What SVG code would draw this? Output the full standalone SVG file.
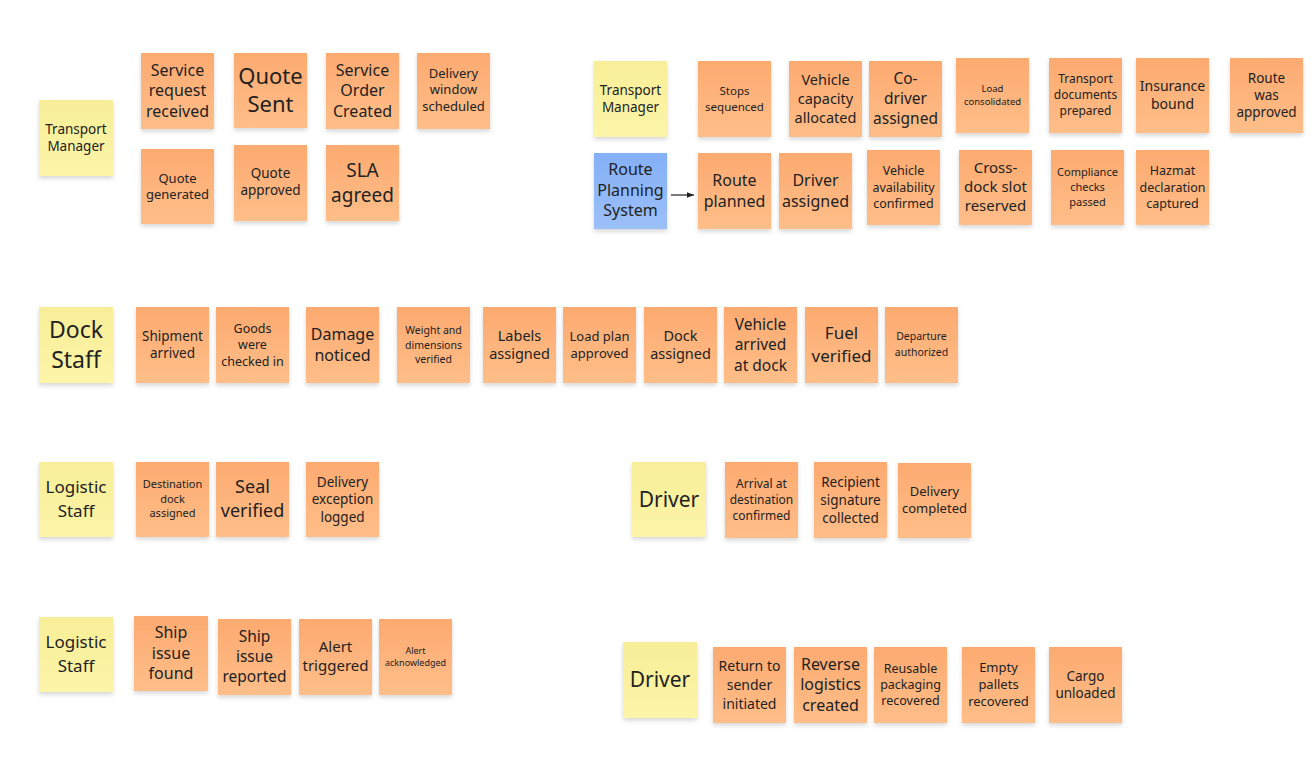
<svg xmlns="http://www.w3.org/2000/svg" width="1315" height="760" viewBox="0 0 1315 760">
<defs>
<linearGradient id="gO" x1="0" y1="0" x2="0" y2="1"><stop offset="0" stop-color="#FCAA70"/><stop offset="1" stop-color="#FFBE89"/></linearGradient>
<linearGradient id="gY" x1="0" y1="0" x2="0" y2="1"><stop offset="0" stop-color="#F8EE98"/><stop offset="1" stop-color="#FCF5A8"/></linearGradient>
<linearGradient id="gB" x1="0" y1="0" x2="0" y2="1"><stop offset="0" stop-color="#84B0F6"/><stop offset="1" stop-color="#9CC0F8"/></linearGradient>
<filter id="sh" x="-20%" y="-20%" width="140%" height="150%"><feDropShadow dx="0" dy="2.5" stdDeviation="2" flood-color="#000" flood-opacity="0.16"/></filter>
<marker id="ah" viewBox="0 0 10 10" refX="10" refY="5" markerWidth="7" markerHeight="7" markerUnits="userSpaceOnUse" orient="auto"><path d="M0,1 L10,5 L0,9 z" fill="#222"/></marker>
</defs>
<style>
.o{fill:url(#gO);filter:url(#sh)}
.y{fill:url(#gY);filter:url(#sh)}
.b{fill:url(#gB);filter:url(#sh)}
text{font-family:"Noto Sans","Open Sans","DejaVu Sans",sans-serif;fill:#222;text-anchor:middle}
</style>
<rect width="1315" height="760" fill="#fff"/>

<g id="connectors">
<line x1="671" y1="195" x2="694" y2="195" stroke="#222" stroke-width="1.2" marker-end="url(#ah)"/>
</g>

<!-- Top left -->
<g id="tm1"><rect class="y" x="39" y="100" width="74" height="76"/><text font-size="13.5"><tspan x="76" y="134">Transport</tspan><tspan x="76" y="151">Manager</tspan></text></g>
<g id="n-service-request"><rect class="o" x="141" y="53" width="73" height="76"/><text font-size="16"><tspan x="177.5" y="75.6">Service</tspan><tspan x="177.5" y="96.3">request</tspan><tspan x="177.5" y="117">received</tspan></text></g>
<g id="n-quote-sent"><rect class="o" x="234" y="53" width="73" height="75"/><text font-size="22"><tspan x="270.5" y="84">Quote</tspan><tspan x="270.5" y="111.5">Sent</tspan></text></g>
<g id="n-service-order"><rect class="o" x="326" y="53" width="73" height="76"/><text font-size="16"><tspan x="362.5" y="75.6">Service</tspan><tspan x="362.5" y="96.3">Order</tspan><tspan x="362.5" y="117">Created</tspan></text></g>
<g id="n-delivery-window"><rect class="o" x="417" y="53" width="73" height="76"/><text font-size="13"><tspan x="453.5" y="77.5">Delivery</tspan><tspan x="453.5" y="94">window</tspan><tspan x="453.5" y="110.5">scheduled</tspan></text></g>
<g id="n-quote-generated"><rect class="o" x="141" y="149" width="73" height="75"/><text font-size="13"><tspan x="177.5" y="182.5">Quote</tspan><tspan x="177.5" y="199">generated</tspan></text></g>
<g id="n-quote-approved"><rect class="o" x="234" y="145" width="73" height="76"/><text font-size="13.5"><tspan x="270.5" y="178">Quote</tspan><tspan x="270.5" y="195">approved</tspan></text></g>
<g id="n-sla-agreed"><rect class="o" x="326" y="145" width="73" height="76"/><text font-size="19"><tspan x="362.5" y="176.5">SLA</tspan><tspan x="362.5" y="201.5">agreed</tspan></text></g>

<!-- Top right -->
<g id="tm2"><rect class="y" x="594" y="61" width="73" height="76"/><text font-size="13.5"><tspan x="630.5" y="94.5">Transport</tspan><tspan x="630.5" y="111.5">Manager</tspan></text></g>
<g id="n-stops"><rect class="o" x="698" y="61" width="73" height="76"/><text font-size="11.5"><tspan x="734.5" y="94.5">Stops</tspan><tspan x="734.5" y="110.5">sequenced</tspan></text></g>
<g id="n-vehicle-capacity"><rect class="o" x="789" y="61" width="73" height="76"/><text font-size="14.5"><tspan x="825.5" y="84.5">Vehicle</tspan><tspan x="825.5" y="103.5">capacity</tspan><tspan x="825.5" y="122.5">allocated</tspan></text></g>
<g id="n-codriver"><rect class="o" x="869" y="61" width="73" height="76"/><text font-size="15.5"><tspan x="905.5" y="83.5">Co-</tspan><tspan x="905.5" y="103.5">driver</tspan><tspan x="905.5" y="123.5">assigned</tspan></text></g>
<g id="n-load-consolidated"><rect class="o" x="956" y="58" width="73" height="75"/><text font-size="9.5"><tspan x="992.5" y="92.2">Load</tspan><tspan x="992.5" y="105.2">consolidated</tspan></text></g>
<g id="n-transport-docs"><rect class="o" x="1049" y="58" width="73" height="75"/><text font-size="12"><tspan x="1085.5" y="83.3">Transport</tspan><tspan x="1085.5" y="99.3">documents</tspan><tspan x="1085.5" y="115.3">prepared</tspan></text></g>
<g id="n-insurance"><rect class="o" x="1136" y="58" width="73" height="75"/><text font-size="14"><tspan x="1172.5" y="91">Insurance</tspan><tspan x="1172.5" y="108.5">bound</tspan></text></g>
<g id="n-route-approved"><rect class="o" x="1230" y="58" width="73" height="75"/><text font-size="13.5"><tspan x="1266.5" y="83">Route</tspan><tspan x="1266.5" y="100">was</tspan><tspan x="1266.5" y="117">approved</tspan></text></g>
<g id="rps"><rect class="b" x="594" y="153" width="73" height="76"/><text font-size="16"><tspan x="630.5" y="175">Route</tspan><tspan x="630.5" y="195.7">Planning</tspan><tspan x="630.5" y="216.4">System</tspan></text></g>
<g id="n-route-planned"><rect class="o" x="698" y="153" width="73" height="76"/><text font-size="16"><tspan x="734.5" y="185.8">Route</tspan><tspan x="734.5" y="206.5">planned</tspan></text></g>
<g id="n-driver-assigned"><rect class="o" x="779" y="153" width="73" height="76"/><text font-size="16"><tspan x="815.5" y="185.8">Driver</tspan><tspan x="815.5" y="206.5">assigned</tspan></text></g>
<g id="n-vehicle-availability"><rect class="o" x="867" y="150" width="73" height="75"/><text font-size="12.5"><tspan x="903.5" y="175.2">Vehicle</tspan><tspan x="903.5" y="191.6">availability</tspan><tspan x="903.5" y="208">confirmed</tspan></text></g>
<g id="n-crossdock"><rect class="o" x="959" y="150" width="73" height="75"/><text font-size="15"><tspan x="995.5" y="173.3">Cross-</tspan><tspan x="995.5" y="192.3">dock slot</tspan><tspan x="995.5" y="211.3">reserved</tspan></text></g>
<g id="n-compliance"><rect class="o" x="1051" y="150" width="73" height="75"/><text font-size="11"><tspan x="1087.5" y="176">Compliance</tspan><tspan x="1087.5" y="191">checks</tspan><tspan x="1087.5" y="206">passed</tspan></text></g>
<g id="n-hazmat"><rect class="o" x="1136" y="150" width="73" height="75"/><text font-size="12.5"><tspan x="1172.5" y="175.3">Hazmat</tspan><tspan x="1172.5" y="191.6">declaration</tspan><tspan x="1172.5" y="207.9">captured</tspan></text></g>

<!-- Dock Staff row -->
<g id="dock-staff"><rect class="y" x="39" y="307" width="74" height="76"/><text font-size="23"><tspan x="76" y="337.5">Dock</tspan><tspan x="76" y="367.5">Staff</tspan></text></g>
<g id="n-shipment-arrived"><rect class="o" x="136" y="307" width="73" height="76"/><text font-size="13.5"><tspan x="172.5" y="341">Shipment</tspan><tspan x="172.5" y="358">arrived</tspan></text></g>
<g id="n-goods-checked"><rect class="o" x="216" y="307" width="73" height="76"/><text font-size="12.5"><tspan x="252.5" y="332.5">Goods</tspan><tspan x="252.5" y="349">were</tspan><tspan x="252.5" y="365.5">checked in</tspan></text></g>
<g id="n-damage"><rect class="o" x="306" y="307" width="73" height="76"/><text font-size="16"><tspan x="342.5" y="340">Damage</tspan><tspan x="342.5" y="361">noticed</tspan></text></g>
<g id="n-weight"><rect class="o" x="397" y="307" width="73" height="76"/><text font-size="10.5"><tspan x="433.5" y="334">Weight and</tspan><tspan x="433.5" y="348.5">dimensions</tspan><tspan x="433.5" y="363">verified</tspan></text></g>
<g id="n-labels"><rect class="o" x="483" y="307" width="73" height="76"/><text font-size="14.5"><tspan x="519.5" y="340.5">Labels</tspan><tspan x="519.5" y="359">assigned</tspan></text></g>
<g id="n-load-plan"><rect class="o" x="563" y="307" width="73" height="76"/><text font-size="13"><tspan x="599.5" y="340.8">Load plan</tspan><tspan x="599.5" y="357.8">approved</tspan></text></g>
<g id="n-dock-assigned"><rect class="o" x="644" y="307" width="73" height="76"/><text font-size="14.5"><tspan x="680.5" y="340.5">Dock</tspan><tspan x="680.5" y="359">assigned</tspan></text></g>
<g id="n-vehicle-arrived"><rect class="o" x="724" y="307" width="73" height="76"/><text font-size="15.5"><tspan x="760.5" y="329.5">Vehicle</tspan><tspan x="760.5" y="350">arrived</tspan><tspan x="760.5" y="370.5">at dock</tspan></text></g>
<g id="n-fuel"><rect class="o" x="805" y="307" width="73" height="76"/><text font-size="17"><tspan x="841.5" y="339">Fuel</tspan><tspan x="841.5" y="361.5">verified</tspan></text></g>
<g id="n-departure"><rect class="o" x="885" y="307" width="73" height="76"/><text font-size="10.5"><tspan x="921.5" y="340">Departure</tspan><tspan x="921.5" y="356">authorized</tspan></text></g>

<!-- Logistic Staff row 1 -->
<g id="logistic-staff-1"><rect class="y" x="39" y="462" width="74" height="75"/><text font-size="17"><tspan x="76" y="493">Logistic</tspan><tspan x="76" y="516.5">Staff</tspan></text></g>
<g id="n-destination-dock"><rect class="o" x="136" y="462" width="73" height="75"/><text font-size="11"><tspan x="172.5" y="488.3">Destination</tspan><tspan x="172.5" y="502.8">dock</tspan><tspan x="172.5" y="517.3">assigned</tspan></text></g>
<g id="n-seal"><rect class="o" x="216" y="462" width="73" height="75"/><text font-size="18"><tspan x="252.5" y="493.2">Seal</tspan><tspan x="252.5" y="517.2">verified</tspan></text></g>
<g id="n-delivery-exception"><rect class="o" x="306" y="462" width="73" height="75"/><text font-size="13.5"><tspan x="342.5" y="486.5">Delivery</tspan><tspan x="342.5" y="504">exception</tspan><tspan x="342.5" y="521.5">logged</tspan></text></g>

<!-- Driver row 1 -->
<g id="driver-1"><rect class="y" x="632" y="462" width="74" height="75"/><text font-size="21"><tspan x="669" y="507">Driver</tspan></text></g>
<g id="n-arrival"><rect class="o" x="725" y="462" width="73" height="76"/><text font-size="12"><tspan x="761.5" y="488">Arrival at</tspan><tspan x="761.5" y="504">destination</tspan><tspan x="761.5" y="520">confirmed</tspan></text></g>
<g id="n-recipient"><rect class="o" x="814" y="462" width="73" height="76"/><text font-size="13.5"><tspan x="850.5" y="486.5">Recipient</tspan><tspan x="850.5" y="504.5">signature</tspan><tspan x="850.5" y="522.5">collected</tspan></text></g>
<g id="n-delivery-completed"><rect class="o" x="898" y="463" width="73" height="75"/><text font-size="13"><tspan x="934.5" y="496.4">Delivery</tspan><tspan x="934.5" y="513">completed</tspan></text></g>

<!-- Logistic Staff row 2 -->
<g id="logistic-staff-2"><rect class="y" x="39" y="617" width="74" height="75"/><text font-size="17"><tspan x="76" y="648">Logistic</tspan><tspan x="76" y="671.5">Staff</tspan></text></g>
<g id="n-ship-issue-found"><rect class="o" x="134" y="616" width="74" height="75"/><text font-size="16"><tspan x="171" y="638.3">Ship</tspan><tspan x="171" y="658.8">issue</tspan><tspan x="171" y="679.3">found</tspan></text></g>
<g id="n-ship-issue-reported"><rect class="o" x="218" y="619" width="73" height="76"/><text font-size="15.5"><tspan x="254.5" y="641.5">Ship</tspan><tspan x="254.5" y="661.5">issue</tspan><tspan x="254.5" y="681.5">reported</tspan></text></g>
<g id="n-alert-triggered"><rect class="o" x="299" y="619" width="73" height="76"/><text font-size="15"><tspan x="335.5" y="652">Alert</tspan><tspan x="335.5" y="671">triggered</tspan></text></g>
<g id="n-alert-ack"><rect class="o" x="379" y="619" width="73" height="76"/><text font-size="9"><tspan x="415.5" y="653.5">Alert</tspan><tspan x="415.5" y="665.5">acknowledged</tspan></text></g>

<!-- Driver row 2 -->
<g id="driver-2"><rect class="y" x="623" y="642" width="74" height="76"/><text font-size="21"><tspan x="660" y="687">Driver</tspan></text></g>
<g id="n-return"><rect class="o" x="713" y="647" width="73" height="76"/><text font-size="14"><tspan x="749.5" y="670.5">Return to</tspan><tspan x="749.5" y="689.5">sender</tspan><tspan x="749.5" y="708.5">initiated</tspan></text></g>
<g id="n-reverse"><rect class="o" x="794" y="647" width="73" height="76"/><text font-size="16"><tspan x="830.5" y="669.8">Reverse</tspan><tspan x="830.5" y="690.3">logistics</tspan><tspan x="830.5" y="710.8">created</tspan></text></g>
<g id="n-reusable"><rect class="o" x="874" y="647" width="73" height="76"/><text font-size="12.5"><tspan x="910.5" y="672.6">Reusable</tspan><tspan x="910.5" y="688.9">packaging</tspan><tspan x="910.5" y="705.2">recovered</tspan></text></g>
<g id="n-empty-pallets"><rect class="o" x="962" y="647" width="73" height="76"/><text font-size="13"><tspan x="998.5" y="672.3">Empty</tspan><tspan x="998.5" y="689.3">pallets</tspan><tspan x="998.5" y="706.3">recovered</tspan></text></g>
<g id="n-cargo"><rect class="o" x="1049" y="647" width="73" height="76"/><text font-size="13.5"><tspan x="1085.5" y="681">Cargo</tspan><tspan x="1085.5" y="697.7">unloaded</tspan></text></g>
</svg>
